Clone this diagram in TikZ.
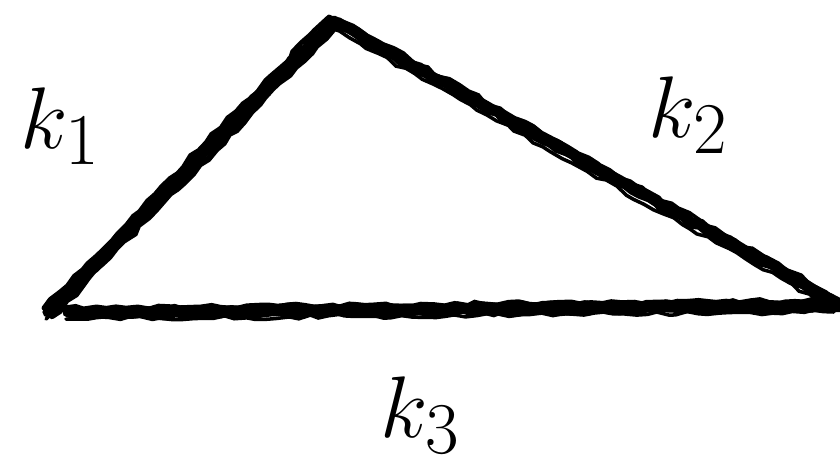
\documentclass[tikz,border=0pt]{standalone}
\usepackage{amsmath}
\usetikzlibrary{decorations.pathmorphing}

\tikzset{
  brush/.style={line width=#1, black, line cap=round,
    decorate, decoration={random steps, segment length=3pt, amplitude=0.6pt}},
  brush/.default=1.6pt,
  klabel/.style={anchor=base west, inner sep=0pt, font=\fontsize{31}{37}\selectfont}
}

\begin{document}
\begin{tikzpicture}
\useasboundingbox (0,0) rectangle (8.4,4.64);
% corners
\coordinate (left) at (0.48,1.52);
\coordinate (top) at (3.33,4.43);
\coordinate (right) at (8.36,1.62);
% rough strokes
\foreach \dx/\dy/\w in {0/0/3.2pt, 0.04/-0.04/1.8pt, -0.04/0.04/1.4pt, 0.06/0.02/1pt, -0.02/-0.07/1pt}{
  \draw[brush=\w] ([shift={(\dx,\dy)}]left) -- ([shift={(\dx,\dy)}]top);
  \draw[brush=\w] ([shift={(\dx,\dy)}]top) -- ([shift={(\dx,\dy)}]right);
  \draw[brush=\w] ([shift={(\dx+0.2,\dy)}]left) -- ([shift={(\dx,\dy-0.03)}]right);
}
% labels
\node[klabel] (k1) at (0.2,3.16) {$k_1$};
\node[klabel] (k2) at (6.48,3.27) {$k_2$};
\node[klabel] (k3) at (3.8,0.27) {$k_3$};
\end{tikzpicture}
\end{document}
